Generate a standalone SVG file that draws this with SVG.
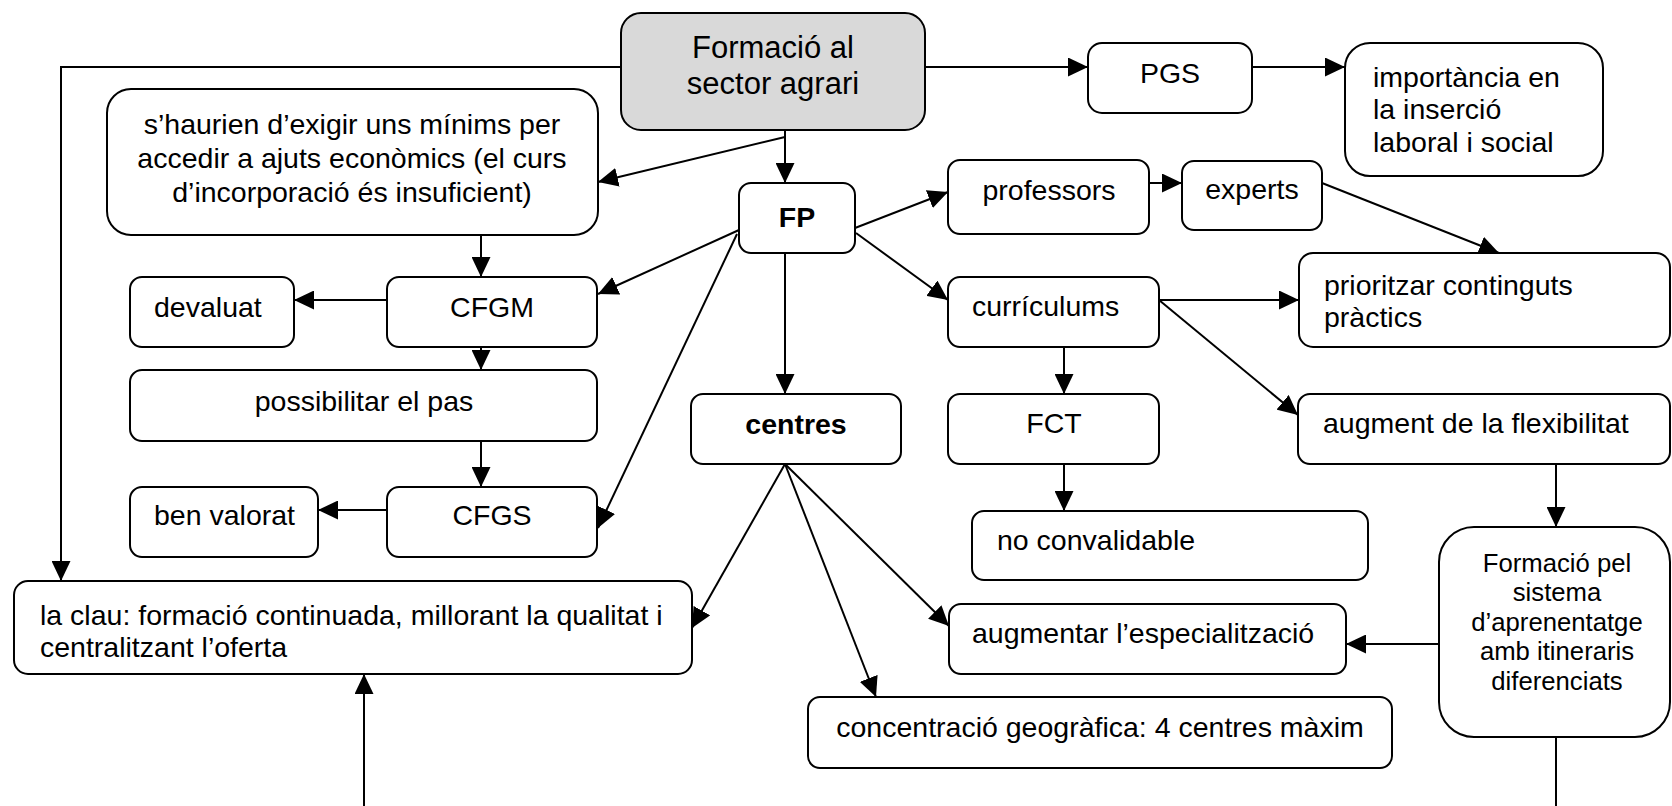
<svg xmlns="http://www.w3.org/2000/svg" width="1672" height="806" viewBox="0 0 1672 806">
<style>
.n rect{fill:#fff;stroke:#000;stroke-width:2}
.n rect.g{fill:#d9d9d9}
text{font-family:"Liberation Sans",Arial,sans-serif;font-size:28.5px;fill:#000}
.c{text-anchor:middle}
.b{font-weight:bold}
.big{font-size:31px}
.sm{font-size:25.7px}
#connectors line,#connectors polyline{stroke:#000;stroke-width:2;fill:none}
</style>
<defs>
<marker id="ah" markerUnits="userSpaceOnUse" markerWidth="20" markerHeight="19" refX="20" refY="9.5" orient="auto">
<path d="M0,0 L20,9.5 L0,19 z" fill="#000"/>
</marker>
</defs>
<g id="connectors">
<polyline points="621,67 61,67 61,581" marker-end="url(#ah)"/>
<line x1="925" y1="67" x2="1088" y2="67" marker-end="url(#ah)"/>
<line x1="1252" y1="67" x2="1345" y2="67" marker-end="url(#ah)"/>
<line x1="785" y1="130" x2="785" y2="183" marker-end="url(#ah)"/>
<line x1="785" y1="137" x2="598" y2="182" marker-end="url(#ah)"/>
<line x1="481" y1="235" x2="481" y2="277" marker-end="url(#ah)"/>
<line x1="387" y1="300" x2="294" y2="300" marker-end="url(#ah)"/>
<line x1="481" y1="347" x2="481" y2="370" marker-end="url(#ah)"/>
<line x1="481" y1="441" x2="481" y2="487" marker-end="url(#ah)"/>
<line x1="387" y1="510" x2="318" y2="510" marker-end="url(#ah)"/>
<line x1="739" y1="230" x2="598" y2="294" marker-end="url(#ah)"/>
<line x1="737" y1="234" x2="598" y2="528" marker-end="url(#ah)"/>
<line x1="855" y1="228" x2="948" y2="192" marker-end="url(#ah)"/>
<line x1="1149" y1="183" x2="1182" y2="183" marker-end="url(#ah)"/>
<line x1="1322" y1="183" x2="1499" y2="253" marker-end="url(#ah)"/>
<line x1="856" y1="233" x2="948" y2="300" marker-end="url(#ah)"/>
<line x1="1159" y1="300" x2="1299" y2="300" marker-end="url(#ah)"/>
<line x1="1159" y1="300" x2="1298" y2="415" marker-end="url(#ah)"/>
<line x1="1064" y1="347" x2="1064" y2="394" marker-end="url(#ah)"/>
<line x1="1064" y1="464" x2="1064" y2="511" marker-end="url(#ah)"/>
<line x1="785" y1="253" x2="785" y2="394" marker-end="url(#ah)"/>
<line x1="785" y1="464" x2="692" y2="628" marker-end="url(#ah)"/>
<line x1="785" y1="464" x2="949" y2="626" marker-end="url(#ah)"/>
<line x1="785" y1="464" x2="876" y2="697" marker-end="url(#ah)"/>
<line x1="1556" y1="457" x2="1556" y2="527" marker-end="url(#ah)"/>
<line x1="1439" y1="644" x2="1346" y2="644" marker-end="url(#ah)"/>
<line x1="1556" y1="737" x2="1556" y2="806"/>
<line x1="364" y1="806" x2="364" y2="674" marker-end="url(#ah)"/>
</g>
<g id="main" class="n"><rect class="g" x="621" y="13" width="304" height="117" rx="20"/><text class="c big" x="773"><tspan x="773" y="58">Formació al</tspan><tspan x="773" y="94">sector agrari</tspan></text></g>
<g id="pgs" class="n"><rect x="1088" y="43" width="164" height="70" rx="14"/><text class="c" x="1170" y="83">PGS</text></g>
<g id="importancia" class="n"><rect x="1345" y="43" width="258" height="133" rx="25"/><text><tspan x="1373" y="87">importància en</tspan><tspan x="1373" y="119">la inserció</tspan><tspan x="1373" y="152">laboral i social</tspan></text></g>
<g id="shaurien" class="n"><rect x="107" y="89" width="491" height="146" rx="24"/><text class="c"><tspan x="352" y="134">s’haurien d’exigir uns mínims per</tspan><tspan x="352" y="168">accedir a ajuts econòmics (el curs</tspan><tspan x="352" y="202">d’incorporació és insuficient)</tspan></text></g>
<g id="fp" class="n"><rect x="739" y="183" width="116" height="70" rx="12"/><text class="c b" x="797" y="227">FP</text></g>
<g id="professors" class="n"><rect x="948" y="160" width="201" height="74" rx="12"/><text class="c" x="1049" y="200">professors</text></g>
<g id="experts" class="n"><rect x="1182" y="161" width="140" height="69" rx="12"/><text class="c" x="1252" y="199">experts</text></g>
<g id="prioritzar" class="n"><rect x="1299" y="253" width="371" height="94" rx="14"/><text><tspan x="1324" y="295">prioritzar continguts</tspan><tspan x="1324" y="327">pràctics</tspan></text></g>
<g id="devaluat" class="n"><rect x="130" y="277" width="164" height="70" rx="12"/><text x="154" y="317">devaluat</text></g>
<g id="cfgm" class="n"><rect x="387" y="277" width="210" height="70" rx="12"/><text class="c" x="492" y="317">CFGM</text></g>
<g id="curriculums" class="n"><rect x="948" y="277" width="211" height="70" rx="12"/><text x="972" y="316">currículums</text></g>
<g id="possibilitar" class="n"><rect x="130" y="370" width="467" height="71" rx="12"/><text class="c" x="364" y="411">possibilitar el pas</text></g>
<g id="centres" class="n"><rect x="691" y="394" width="210" height="70" rx="12"/><text class="c b" x="796" y="434">centres</text></g>
<g id="fct" class="n"><rect x="948" y="394" width="211" height="70" rx="12"/><text class="c" x="1054" y="433">FCT</text></g>
<g id="flexibilitat" class="n"><rect x="1298" y="394" width="372" height="70" rx="12"/><text x="1323" y="433">augment de la flexibilitat</text></g>
<g id="benvalorat" class="n"><rect x="130" y="487" width="188" height="70" rx="12"/><text x="154" y="525">ben valorat</text></g>
<g id="cfgs" class="n"><rect x="387" y="487" width="210" height="70" rx="12"/><text class="c" x="492" y="525">CFGS</text></g>
<g id="noconvalidable" class="n"><rect x="972" y="511" width="396" height="69" rx="12"/><text x="997" y="550">no convalidable</text></g>
<g id="formaciopel" class="n"><rect x="1439" y="527" width="231" height="210" rx="35"/><text class="c sm"><tspan x="1557" y="572">Formació pel</tspan><tspan x="1557" y="601">sistema</tspan><tspan x="1557" y="631">d’aprenentatge</tspan><tspan x="1557" y="660">amb itineraris</tspan><tspan x="1557" y="690">diferenciats</tspan></text></g>
<g id="laclau" class="n"><rect x="14" y="581" width="678" height="93" rx="14"/><text><tspan x="40" y="625">la clau: formació continuada, millorant la qualitat i</tspan><tspan x="40" y="657">centralitzant l’oferta</tspan></text></g>
<g id="especialitzacio" class="n"><rect x="949" y="604" width="397" height="70" rx="12"/><text x="972" y="643">augmentar l’especialització</text></g>
<g id="concentracio" class="n"><rect x="808" y="697" width="584" height="71" rx="12"/><text class="c" x="1100" y="737">concentració geogràfica: 4 centres màxim</text></g>
</svg>
